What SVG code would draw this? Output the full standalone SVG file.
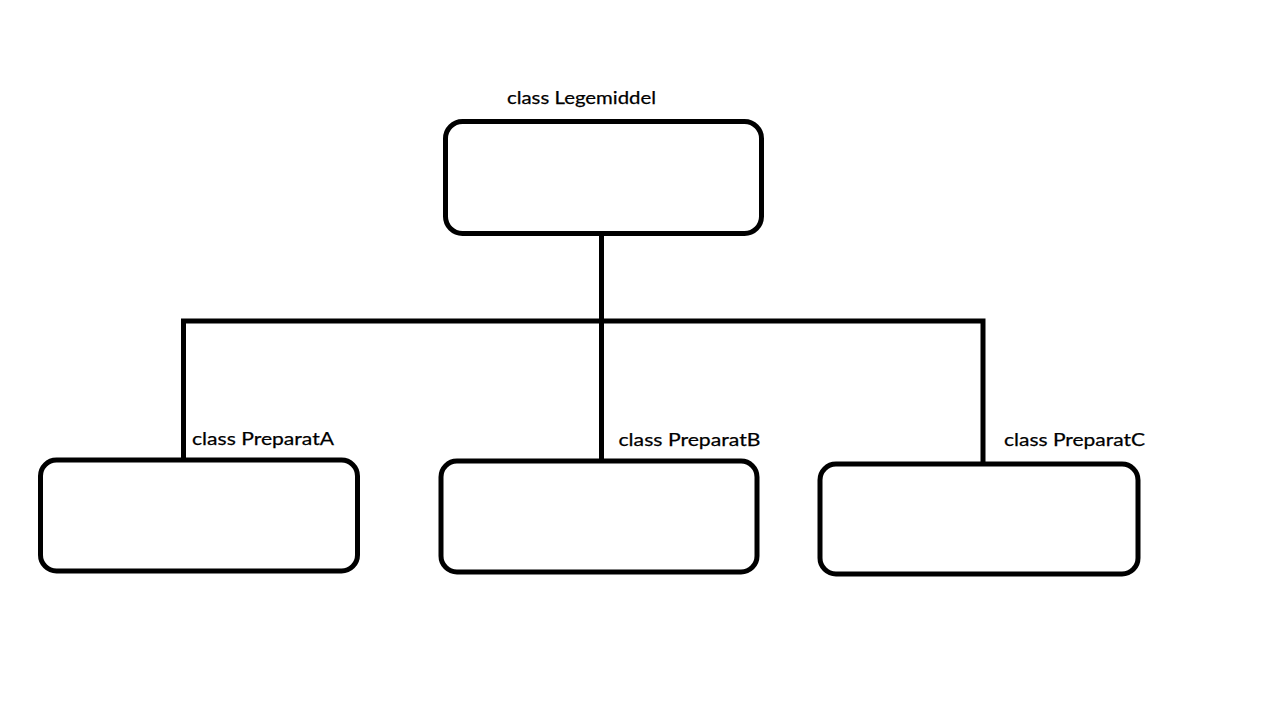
<svg xmlns="http://www.w3.org/2000/svg" width="1268" height="702" viewBox="0 0 1268 702">
  <style>
    .box { fill: #ffffff; stroke: #000000; stroke-width: 5; }
    .conn { fill: none; stroke: #000000; stroke-width: 5; stroke-linecap: butt; stroke-linejoin: miter; }
    .label { font-family: "Lato", "Open Sans", "Liberation Sans", sans-serif; font-size: 18px; fill: #000000; stroke: #000000; stroke-width: 0.25; }
  </style>
  <rect x="0" y="0" width="1268" height="702" fill="#ffffff"/>
  <g id="connectors">
    <line class="conn" x1="601.5" y1="235" x2="601.5" y2="461"/>
    <polyline class="conn" points="183.5,459 183.5,321 983,321 983,463"/>
  </g>
  <g id="node-legemiddel">
    <rect class="box" x="445.5" y="121.5" width="316" height="112" rx="17" ry="17"/>
    <text class="label" x="507" y="104" textLength="149" lengthAdjust="spacingAndGlyphs">class Legemiddel</text>
  </g>
  <g id="node-preparatA">
    <rect class="box" x="40.5" y="460" width="317" height="111" rx="16" ry="16"/>
    <text class="label" x="192" y="444.5" textLength="142" lengthAdjust="spacingAndGlyphs">class PreparatA</text>
  </g>
  <g id="node-preparatB">
    <rect class="box" x="441" y="461" width="316" height="111" rx="16" ry="16"/>
    <text class="label" x="618.5" y="445.5" textLength="142" lengthAdjust="spacingAndGlyphs">class PreparatB</text>
  </g>
  <g id="node-preparatC">
    <rect class="box" x="820" y="464" width="318" height="110" rx="16" ry="16"/>
    <text class="label" x="1004" y="445.5" textLength="141" lengthAdjust="spacingAndGlyphs">class PreparatC</text>
  </g>
</svg>
